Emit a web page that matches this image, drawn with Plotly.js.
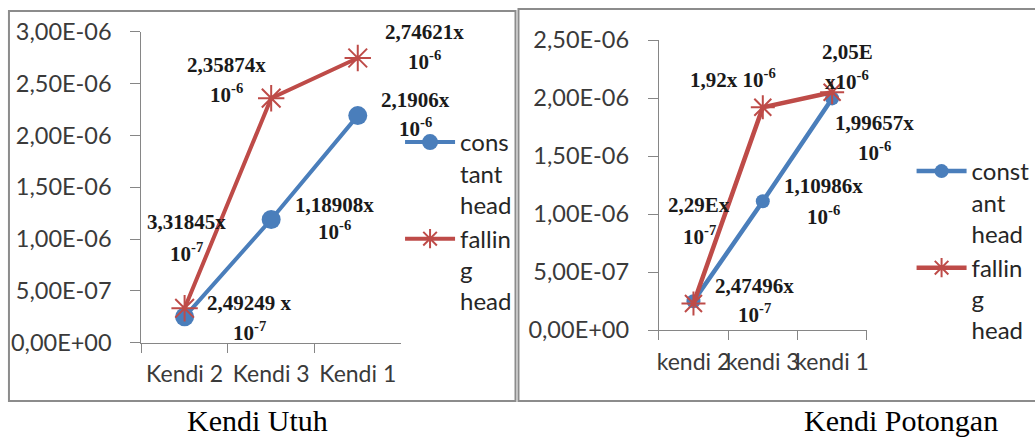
<!DOCTYPE html>
<html><head><meta charset="utf-8">
<script src="https://cdn.plot.ly/plotly-3.0.1.min.js"></script>
<style>html,body{margin:0;padding:0;background:#fff}#chart{width:1035px;height:438px}</style>
</head><body><div id="chart"></div>
<script>
// ---------- DATA ----------
const seriesNames = ['constant head', 'falling head'];

// Kendi Utuh
const utuhCategories = ['Kendi 2', 'Kendi 3', 'Kendi 1'];
const utuhConstantHead = [2.49249e-7, 1.18908e-6, 2.1906e-6];
const utuhFallingHead = [3.31845e-7, 2.35874e-6, 2.74621e-6];
const utuhConstantLabelTop = ['2,49249 x', '1,18908x', '2,1906x'];
const utuhConstantLabelBottom = ['10<sup>-7</sup>', '10<sup>-6</sup>', '10<sup>-6</sup>'];
const utuhFallingLabelTop = ['3,31845x', '2,35874x', '2,74621x'];
const utuhFallingLabelBottom = ['10<sup>-7</sup>', '10<sup>-6</sup>', '10<sup>-6</sup>'];
const utuhTickVals = [0, 5e-7, 1e-6, 1.5e-6, 2e-6, 2.5e-6, 3e-6];
const utuhTickText = ['0,00E+00', '5,00E-07', '1,00E-06', '1,50E-06', '2,00E-06', '2,50E-06', '3,00E-06'];
const utuhLegendNames = ['cons<br>tant<br>head', 'fallin<br>g<br>head'];

// Kendi Potongan
const potonganCategories = ['kendi 2', 'kendi 3', 'kendi 1'];
const potonganConstantHead = [2.47496e-7, 1.10986e-6, 1.99657e-6];
const potonganFallingHead = [2.29e-7, 1.92e-6, 2.05e-6];
const potonganConstantLabelTop = ['2,47496x', '1,10986x', '1,99657x'];
const potonganConstantLabelBottom = ['10<sup>-7</sup>', '10<sup>-6</sup>', '10<sup>-6</sup>'];
const potonganFallingLabelTop = ['2,29Ex', '1,92x 10<sup>-6</sup>', '2,05E'];
const potonganFallingLabelBottom = ['10<sup>-7</sup>', '', 'x10<sup>-6</sup>'];
const potonganTickVals = [0, 5e-7, 1e-6, 1.5e-6, 2e-6, 2.5e-6];
const potonganTickText = ['0,00E+00', '5,00E-07', '1,00E-06', '1,50E-06', '2,00E-06', '2,50E-06'];
const potonganLegendNames = ['const<br>ant<br>head', 'fallin<br>g<br>head'];

const captions = ['Kendi Utuh', 'Kendi Potongan'];

// ---------- STYLE / LAYOUT ----------
const W = 1035, H = 438;
const px = v => v / W;
const py = v => 1 - v / H;
const BLUE = '#4A7EBB', RED = '#BE4B48', AX = '#868686';

// label offsets (pixels) [xshift, yshiftTop, yshiftBottom]
const utuhConstOff = [[65, 14, -15], [63, 14, -11], [58, 16, -12]];
const utuhFallOff = [[2, 86, 56], [-45, 33, 5], [67, 26, -2]];
const potConstOff = [[61, 15, -12], [61, 15, -14], [42, -25, -53]];
const potFallOff = [[6, 98, 68], [-30, 29, 0], [15, 40, 12]];

const labelFont = {family: 'Liberation Serif', size: 21, color: '#1a1a1a', weight: 700};

function labelAnnots(cats, vals, tops, bottoms, offs, xr, yr) {
  const out = [];
  cats.forEach((c, i) => {
    const o = offs[i];
    out.push({x: c, y: vals[i], xref: xr, yref: yr, text: tops[i], showarrow: false,
      xshift: o[0], yshift: o[1], font: labelFont});
    if (bottoms[i]) out.push({x: c, y: vals[i], xref: xr, yref: yr, text: bottoms[i], showarrow: false,
      xshift: o[0], yshift: o[2], font: labelFont});
  });
  return out;
}

const traces = [
  {x: utuhCategories, y: utuhConstantHead, name: utuhLegendNames[0], type: 'scatter', mode: 'lines+markers',
   xaxis: 'x', yaxis: 'y', legend: 'legend',
   line: {color: BLUE, width: 4}, marker: {symbol: 'circle', size: 19, color: BLUE}},
  {x: utuhCategories, y: utuhFallingHead, name: utuhLegendNames[1], type: 'scatter', mode: 'lines+markers',
   xaxis: 'x', yaxis: 'y', legend: 'legend',
   line: {color: RED, width: 4}, marker: {symbol: 'asterisk-open', size: 22, color: RED, line: {color: RED, width: 2}}},
  {x: potonganCategories, y: potonganConstantHead, name: potonganLegendNames[0], type: 'scatter', mode: 'lines+markers',
   xaxis: 'x2', yaxis: 'y2', legend: 'legend2',
   line: {color: BLUE, width: 4.5}, marker: {symbol: 'circle', size: 14, color: BLUE}},
  {x: potonganCategories, y: potonganFallingHead, name: potonganLegendNames[1], type: 'scatter', mode: 'lines+markers',
   xaxis: 'x2', yaxis: 'y2', legend: 'legend2',
   line: {color: RED, width: 4.5}, marker: {symbol: 'asterisk-open', size: 20, color: RED, line: {color: RED, width: 2}}}
];

const tickFont = {family: 'Lato', size: 23.5, color: '#3a3a3a'};
const catFont = {family: 'Lato', size: 23, color: '#3a3a3a'};
const catAxis = (dom) => ({domain: dom, type: 'category', range: [-0.5, 2.5], tickson: 'boundaries',
  ticks: 'outside', ticklen: 9, tickcolor: AX, tickwidth: 1, showline: true, linecolor: AX, linewidth: 1,
  showgrid: false, zeroline: false, tickangle: 0, tickfont: catFont, ticklabelstandoff: 11, fixedrange: true});
const valAxis = (dom, rng, tv, tt, anchor) => ({domain: dom, range: rng, tickmode: 'array', tickvals: tv, ticktext: tt,
  ticks: 'outside', ticklen: 10, tickcolor: AX, tickwidth: 1, showline: true, linecolor: AX, linewidth: 1,
  showgrid: false, zeroline: false, tickfont: tickFont, ticklabelstandoff: 14, anchor: anchor, fixedrange: true});

const legendBase = {xanchor: 'left', yanchor: 'top', bgcolor: 'rgba(0,0,0,0)', borderwidth: 0,
  font: {family: 'Lato', size: 24, color: '#262626'}, valign: 'top', tracegroupgap: 0, itemwidth: 50};

const captionFont = {family: 'Liberation Serif', size: 30, color: '#000'};

const layout = {
  width: W, height: H, margin: {l: 0, r: 0, t: 0, b: 0}, paper_bgcolor: '#fff', plot_bgcolor: 'rgba(0,0,0,0)',
  xaxis: catAxis([px(142), px(403)]),
  yaxis: valAxis([py(342.7), py(31.7)], [0, 3e-6], utuhTickVals, utuhTickText, 'x'),
  xaxis2: Object.assign(catAxis([px(662), px(871)]), {anchor: 'y2'}),
  yaxis2: valAxis([py(330), py(40)], [0, 2.5e-6], potonganTickVals, potonganTickText, 'x2'),
  legend: Object.assign({}, legendBase, {x: px(402), y: py(120)}),
  legend2: Object.assign({}, legendBase, {x: px(916), y: py(149)}),
  shapes: [
    {type: 'rect', xref: 'paper', yref: 'paper', x0: px(9), x1: px(518), y0: py(401), y1: py(11),
     line: {color: '#8c8c8c', width: 2}},
    {type: 'rect', xref: 'paper', yref: 'paper', x0: px(521), x1: px(1045), y0: py(401), y1: py(9),
     line: {color: '#8c8c8c', width: 2}}
  ],
  annotations: [].concat(
    labelAnnots(utuhCategories, utuhConstantHead, utuhConstantLabelTop, utuhConstantLabelBottom, utuhConstOff, 'x', 'y'),
    labelAnnots(utuhCategories, utuhFallingHead, utuhFallingLabelTop, utuhFallingLabelBottom, utuhFallOff, 'x', 'y'),
    labelAnnots(potonganCategories, potonganConstantHead, potonganConstantLabelTop, potonganConstantLabelBottom, potConstOff, 'x2', 'y2'),
    labelAnnots(potonganCategories, potonganFallingHead, potonganFallingLabelTop, potonganFallingLabelBottom, potFallOff, 'x2', 'y2'),
    [
      {xref: 'paper', yref: 'paper', x: px(259), xanchor: 'center', y: 0, yanchor: 'bottom', yshift: 0, borderpad: 0,
       text: captions[0], showarrow: false, font: captionFont},
      {xref: 'paper', yref: 'paper', x: px(905), xanchor: 'center', y: 0, yanchor: 'bottom', yshift: 0, borderpad: 0,
       text: captions[1], showarrow: false, font: captionFont}
    ]
  )
};

Plotly.newPlot('chart', traces, layout, {staticPlot: true, displayModeBar: false});
</script></body></html>
